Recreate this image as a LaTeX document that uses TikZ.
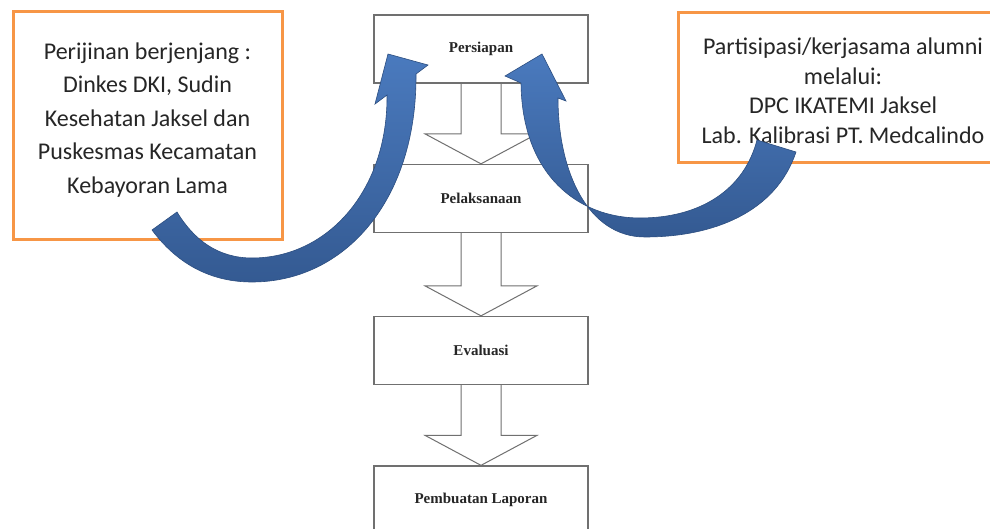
\documentclass[tikz,border=0pt]{standalone}
\usepackage{fontspec}
\setmainfont{Carlito}
\newfontfamily\stepfont{Liberation Serif}
\usetikzlibrary{calc}

\definecolor{boxorange}{RGB}{247,150,70}
\definecolor{arrowlight}{RGB}{74,122,190}
\definecolor{arrowshade}{RGB}{52,90,146}
\definecolor{arrowedge}{RGB}{44,78,128}
\definecolor{linegray}{RGB}{112,112,112}

\newcommand{\flowto}[2]{%
  \draw[flowarrow] ($(#1.south)+(-20,0)$) |- ($(#2.north)+(-56,-30)$) -- (#2.north)
    -- ($(#2.north)+(56,-30)$) -| ($(#1.south)+(20,0)$);}

\begin{document}
\begin{tikzpicture}[x=1pt, y=-1pt,
    stepbox/.style={draw=linegray, line width=1.3pt, minimum width=214pt, minimum height=68pt,
      font=\stepfont\bfseries\fontsize{15}{17}\selectfont, text=black!85},
    flowarrow/.style={draw=linegray, line width=1pt},
    infobox/.style={draw=boxorange, line width=3pt},
    infotext/.style={align=center, text=black!85, font=\fontsize{24}{33.5}\selectfont},
    curvearrow/.style={draw=arrowedge, line width=0.6pt, top color=arrowlight, bottom color=arrowshade}]
    \useasboundingbox (0,0) rectangle (990,529);
    \fill[white] (0,0) rectangle (990,529);
    \clip (0,0) rectangle (990,529);

    \node[stepbox] (persiapan) at (481,49) {Persiapan};
    \node[stepbox] (pelaksanaan) at (481,198.5) {Pelaksanaan};
    \node[stepbox] (evaluasi) at (481,350.5) {Evaluasi};
    \node[stepbox] (laporan) at (481,500) {Pembuatan Laporan};

    \flowto{persiapan}{pelaksanaan}
    \flowto{pelaksanaan}{evaluasi}
    \flowto{evaluasi}{laporan}

    \node[infobox, minimum width=269pt, minimum height=228pt] (izin) at (147.5,126) {};
    \node[infotext] (izintext) at (147.5,120)
      {Perijinan berjenjang :\\Dinkes DKI, Sudin\\Kesehatan Jaksel dan\\Puskesmas Kecamatan\\Kebayoran Lama};

    \node[infobox, minimum width=330pt, minimum height=150pt] (alumni) at (843,88) {};
    \node[infotext, font=\fontsize{24}{29.5}\selectfont] (alumnitext) at (843,91)
      {Partisipasi/kerjasama alumni\\melalui:\\DPC IKATEMI Jaksel\\Lab. Kalibrasi PT. Medcalindo};

    % izin -> persiapan
    \path[curvearrow] (152,230) .. controls (178,265) and (212,282) .. (252,282)
      .. controls (345,282) and (417,200) .. (416,74) -- (428,65) -- (388,54) -- (375,104) -- (387,95)
      .. controls (388,190) and (328,258) .. (252,258) .. controls (218,258) and (194,240) .. (177,212) -- cycle;
    % alumni -> persiapan
    \path[curvearrow] (796,152) .. controls (776,212) and (714,237) .. (645,237)
      .. controls (588,237) and (558,172) .. (558,98) -- (566,101) -- (542,54) -- (505,76) -- (521,83)
      .. controls (522,175) and (578,218) .. (640,218) .. controls (700,218) and (744,190) .. (757,140) -- cycle;
\end{tikzpicture}
\end{document}
